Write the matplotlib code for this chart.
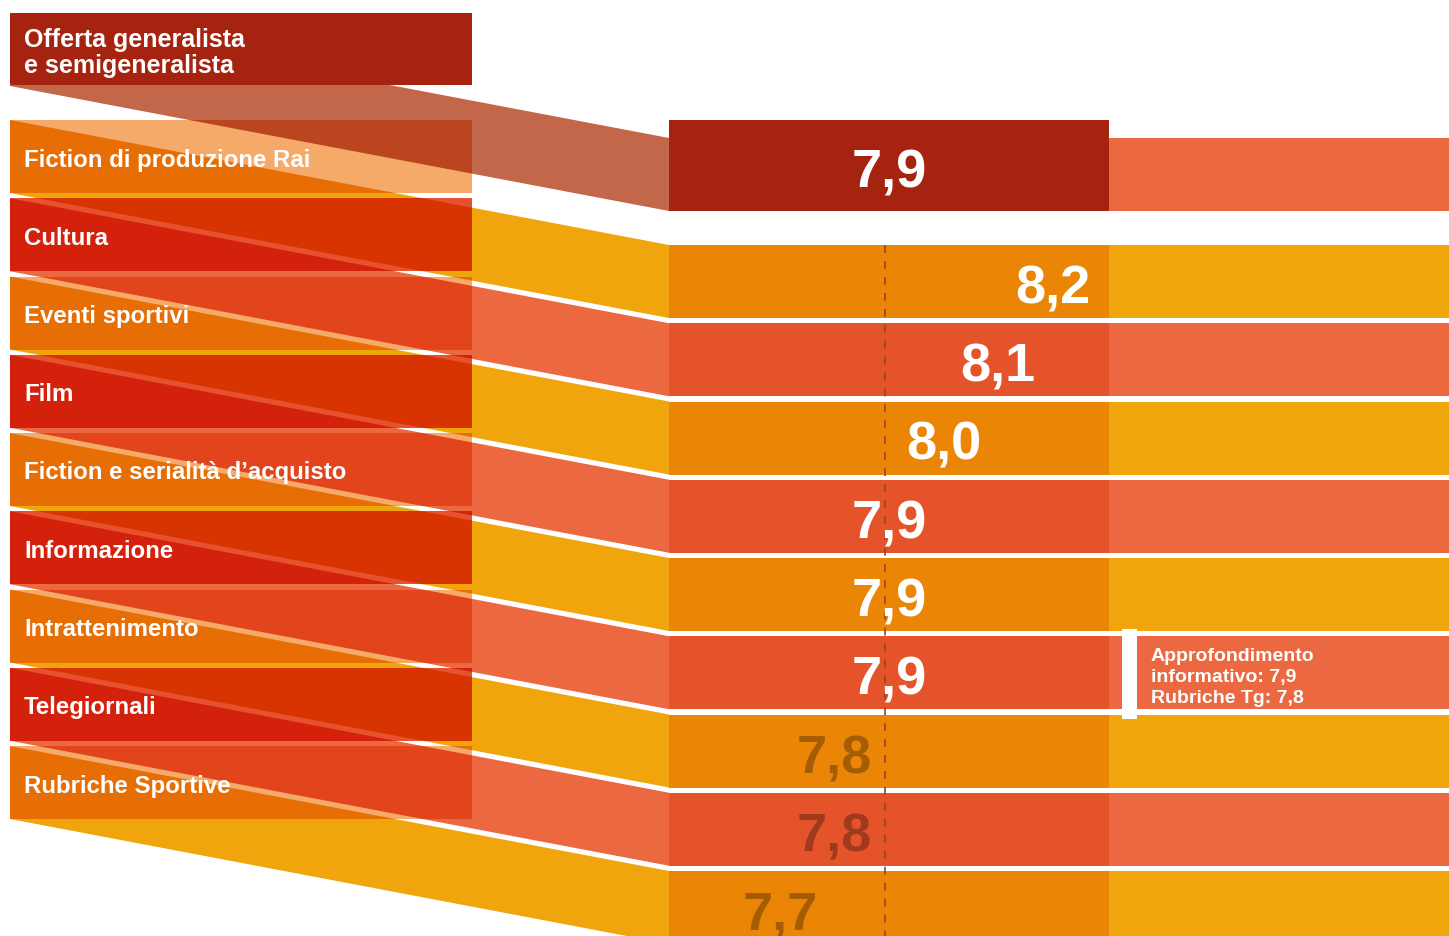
import matplotlib
matplotlib.use("Agg")
import matplotlib.pyplot as plt
from matplotlib.patches import Polygon, Rectangle
from matplotlib.colors import to_rgb

# data
header_label = ["Offerta generalista", "e semigeneralista"]
header_value = 7.9
categories = [
    "Fiction di produzione Rai",
    "Cultura",
    "Eventi sportivi",
    "Film",
    "Fiction e serialità d’acquisto",
    "Informazione",
    "Intrattenimento",
    "Telegiornali",
    "Rubriche Sportive",
]
values = [8.2, 8.1, 8.0, 7.9, 7.9, 7.9, 7.8, 7.8, 7.7]
average = 7.9
note_row = 5
note_lines = ["Approfondimento", "informativo: 7,9", "Rubriche Tg: 7,8"]

# layout (pixels)
W, H = 1449, 936
X0, BOX_R, BAND_R, DARK_R = 10, 472, 669, 1109
ROW_TOP0, PITCH, ROW_H, SHIFT = 120, 78.25, 73, 125
HEAD_TOP, HEAD_H = 13, 73
HEAD_DARK_TOP = 120
VAL_REF, VAL_X_REF, PX_PER_UNIT = 7.9, 889, 545

# colours
HEAD_BOX = "#A6240F"
HEAD_BAND = "#C2674A"
BAND = ["#F0A50C", "#EB6841"]
DARK = ["#EB8505", "#E5532B"]
BOX = ["#F5AA6A", "#E6512E"]
FONT = "Liberation Sans"


def mult(c1, c2):
    return tuple(a * b for a, b in zip(to_rgb(c1), to_rgb(c2)))


def value_x(v):
    return VAL_X_REF + (v - VAL_REF) * PX_PER_UNIT


def fmt(v):
    return f"{v:.1f}".replace(".", ",")


def band_poly(top, h):
    return [(X0, top), (BAND_R, top + SHIFT), (BAND_R, top + h + SHIFT), (X0, top + h)]


fig = plt.figure(figsize=(W / 100, H / 100), dpi=100)
ax = fig.add_axes([0, 0, 1, 1])
ax.set_xlim(0, W)
ax.set_ylim(H, 0)
ax.axis("off")

tops = [ROW_TOP0 + i * PITCH for i in range(len(categories))]
bands = [(HEAD_TOP, HEAD_H, HEAD_BAND)] + [(t, ROW_H, BAND[i % 2]) for i, t in enumerate(tops)]

# slanted bands + light right part
for top, h, col in bands:
    ax.add_patch(Polygon(band_poly(top, h), closed=True, fc=col, ec="none", zorder=1))
    ax.add_patch(Rectangle((BAND_R - 0.5, top + SHIFT), W - BAND_R + 1, h,
                           fc=BAND[1] if col == HEAD_BAND else col, ec="none", zorder=1))

# dark value part on the right
ax.add_patch(Rectangle((BAND_R, HEAD_DARK_TOP), DARK_R - BAND_R, HEAD_TOP + HEAD_H + SHIFT - HEAD_DARK_TOP,
                       fc=HEAD_BOX, ec="none", zorder=2))
for i, t in enumerate(tops):
    ax.add_patch(Rectangle((BAND_R, t + SHIFT), DARK_R - BAND_R, ROW_H,
                           fc=DARK[i % 2], ec="none", zorder=2))

# left label boxes, multiplied over the bands
for i, t in enumerate(tops):
    boxcol = BOX[i % 2]
    clip = Rectangle((X0, t), BOX_R - X0, ROW_H, fc=boxcol, ec="none", zorder=3)
    ax.add_patch(clip)
    for top, h, col in bands:
        p = Polygon(band_poly(top, h), closed=True, fc=mult(boxcol, col), ec="none", zorder=3.5)
        ax.add_patch(p)
        p.set_clip_path(clip)
    ax.text(24, t + ROW_H / 2 + 10, categories[i], color="white", fontsize=17.3,
            fontweight="bold", family=FONT, va="baseline", ha="left", zorder=6)

# header box (opaque)
ax.add_patch(Rectangle((X0, HEAD_TOP), BOX_R - X0, HEAD_H - 1, fc=HEAD_BOX, ec="none", zorder=4))
for k, line in enumerate(header_label):
    ax.text(24, 47 + 26 * k, line, color="white", fontsize=18, fontweight="bold",
            family=FONT, va="baseline", ha="left", zorder=6)

# average line
ax.plot([value_x(average) - 4] * 2, [tops[0] + SHIFT, H], color="#8A4A22", lw=1.4,
        linestyle=(0, (4, 4.2)), alpha=0.85, zorder=4.5)

# values
head_mid = (HEAD_DARK_TOP + HEAD_TOP + HEAD_H + SHIFT) / 2
ax.text(value_x(header_value), head_mid + 22, fmt(header_value), color="white", fontsize=39,
        fontweight="bold", family=FONT, ha="center", va="baseline", zorder=6)
for i, (t, v) in enumerate(zip(tops, values)):
    col = "white" if v >= average else tuple(c * 0.7 for c in to_rgb(DARK[i % 2]))
    ax.text(value_x(v), t + SHIFT + ROW_H / 2 + 22, fmt(v), color=col, fontsize=39,
            fontweight="bold", family=FONT, ha="center", va="baseline", zorder=6)

# note
nt = tops[note_row] + SHIFT
ax.add_patch(Rectangle((1122, nt - 7), 15, ROW_H + 17, fc="white", ec="none", zorder=5))
for k, line in enumerate(note_lines):
    ax.text(1151, nt + 25 + 21 * k, line, color="white", fontsize=14, fontweight="bold",
            family=FONT, va="baseline", ha="left", zorder=6)

fig.savefig("out.png", dpi=100)
